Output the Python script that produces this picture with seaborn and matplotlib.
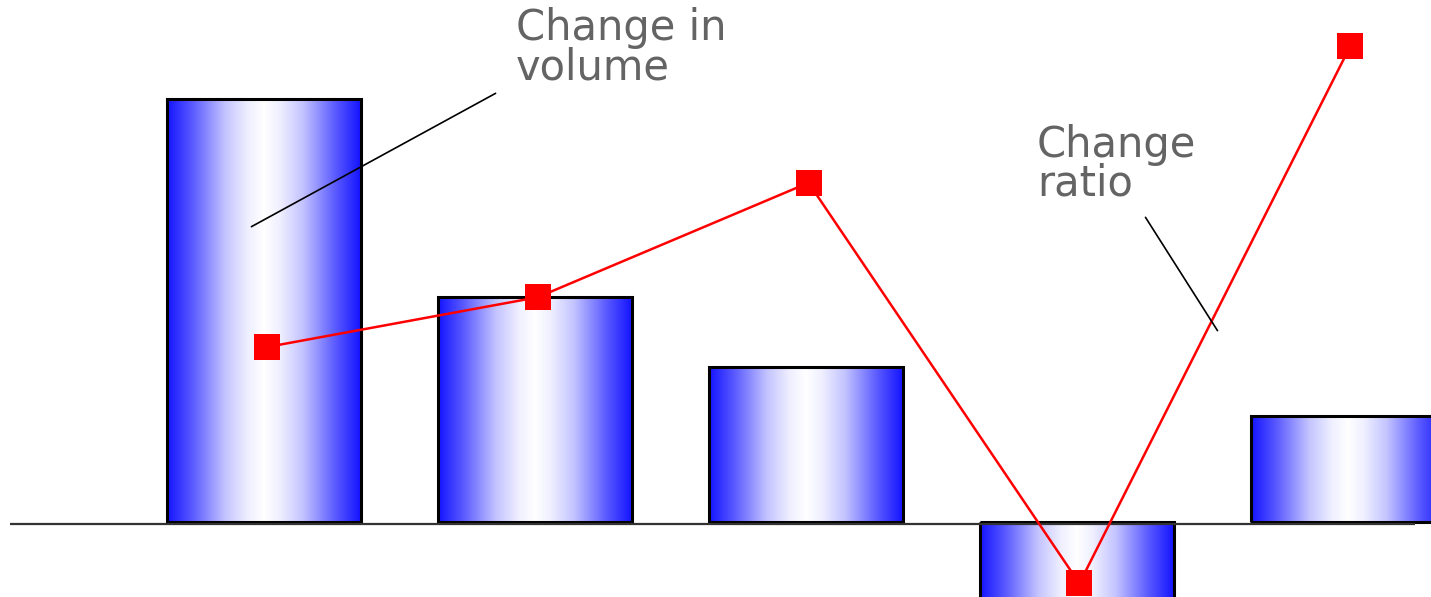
import numpy as np
import matplotlib
matplotlib.use("Agg")
import matplotlib.pyplot as plt
from matplotlib.colors import LinearSegmentedColormap
import seaborn as sns
import pandas as pd

categories = ["A", "B", "C", "D", "E"]
volume_change = [3.99, 2.12, 1.46, -1.0, 1.0]
ratio_change = [1.65, 2.12, 3.20, -0.58, 4.49]

label_volume = "Change in\nvolume"
label_ratio = "Change\nratio"

sns.set_theme(style="white")
plt.rcParams['font.family'] = ['DejaVu Sans']

W, H = 1431, 597
fig = plt.figure(figsize=(W / 100, H / 100), dpi=100)
ax = fig.add_axes([0, 0, 1, 1])

# pixel mapping helpers (layout only)
x0_px, dx_px = 264.0, 270.9
y0_px, dy_px = 522.0, 106.0
xlim = ((0 - x0_px) / dx_px, (W - x0_px) / dx_px)
ylim = ((y0_px - H) / dy_px, (y0_px - 0) / dy_px)

df = pd.DataFrame({"cat": categories, "vol": volume_change, "ratio": ratio_change})

sns.barplot(data=df, x="cat", y="vol", ax=ax, width=0.716,
            facecolor="none", edgecolor="black", linewidth=2.2, zorder=2)

stops = [(0.0, "#1414ff"), (0.13, "#5a5aff"), (0.3, "#c4c4ff"),
         (0.42, "#f0f0ff"), (0.5, "#ffffff"), (0.58, "#f0f0ff"),
         (0.7, "#c4c4ff"), (0.87, "#5a5aff"), (1.0, "#1414ff")]
cmap = LinearSegmentedColormap.from_list("bw", stops)
grad = np.linspace(0, 1, 256).reshape(1, -1)
for p in list(ax.patches):
    bx, by = p.get_x(), p.get_y()
    bw, bh = p.get_width(), p.get_height()
    y_lo, y_hi = min(by, by + bh), max(by, by + bh)
    im = ax.imshow(grad, cmap=cmap, aspect="auto",
                   extent=(bx, bx + bw, y_lo, y_hi), zorder=1.5,
                   interpolation="bicubic")
    im.set_clip_path(p)

ax.hlines(-0.02, (10 - x0_px) / dx_px, (1415 - x0_px) / dx_px,
          color="#333333", linewidth=1.6, zorder=3)

sns.lineplot(x=np.arange(len(categories)) + 0.01, y=df["ratio"], ax=ax,
             color="#ff0000", linewidth=1.8, marker="s", markersize=18.5,
             markeredgewidth=0, zorder=5)

def d(px, py):
    return ((px - x0_px) / dx_px, (y0_px - py) / dy_px)

ax.annotate("", xy=d(249, 228), xytext=d(498, 92),
            arrowprops=dict(arrowstyle="-", color="black", lw=1.2), zorder=6)
ax.annotate("", xy=d(1219, 333), xytext=d(1144, 215),
            arrowprops=dict(arrowstyle="-", color="black", lw=1.2), zorder=6)

tx, ty = d(516, 79)
ax.text(tx, ty, label_volume, fontsize=30, color="#646464", ha="left",
        va="baseline", linespacing=0.9, zorder=6)
tx, ty = d(1037, 196)
ax.text(tx, ty, label_ratio, fontsize=30, color="#646464", ha="left",
        va="baseline", linespacing=0.9, zorder=6)

ax.set_xlim(*xlim)
ax.set_ylim(*ylim)
ax.axis("off")

fig.savefig("out.png", dpi=100)
